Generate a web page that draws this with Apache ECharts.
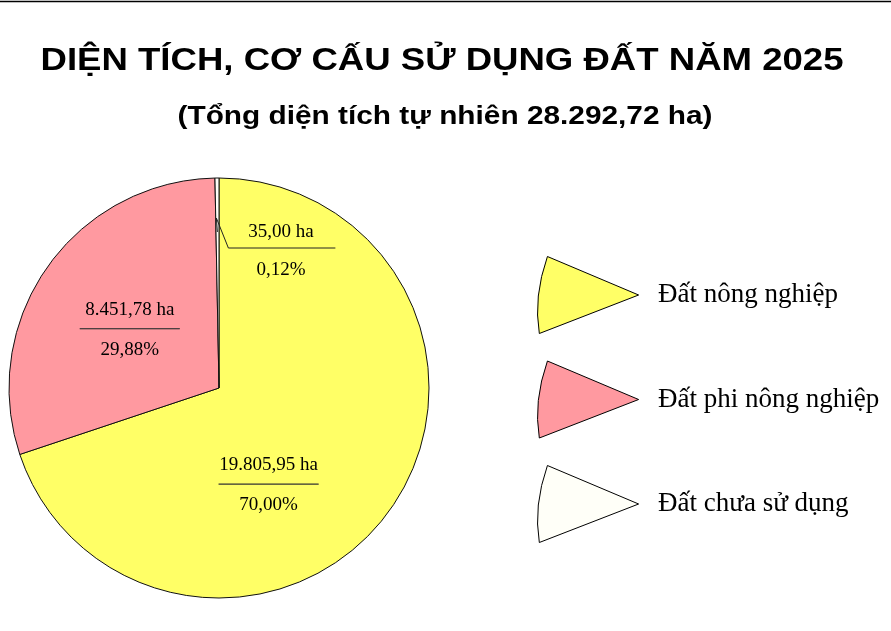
<!DOCTYPE html>
<html>
<head>
<meta charset="utf-8">
<script src="https://cdn.jsdelivr.net/npm/echarts@6/dist/echarts.min.js"></script>
<style>
    html, body {margin: 0; padding: 0; background: #fff;}
    #chart {width: 891px; height: 631px;}
</style>
</head>
<body>
<div id="chart"></div>
<script>
// 数据部分
var categories = ['Đất nông nghiệp', 'Đất phi nông nghiệp', 'Đất chưa sử dụng'];
var areas = [19805.95, 8451.78, 35.00];
var percents = ['70,00', '29,88', '0,12'];
var colors = ['#FFFF66', '#FF99A0', '#FFFFF8'];
var titleText = 'DIỆN TÍCH, CƠ CẤU SỬ DỤNG ĐẤT NĂM 2025';
var subText = '(Tổng diện tích tự nhiên 28.292,72 ha)';

// 数字格式 19805.95 -> 19.805,95
function fmtVN(v) {
    var parts = v.toFixed(2).split('.');
    var intPart = parts[0].replace(/\B(?=(\d{3})+(?!\d))/g, '.');
    return intPart + ',' + parts[1];
}

// 标题文字宽度（用于横向拉伸）
function textWidth(str, font) {
    var ctx = document.createElement('canvas').getContext('2d');
    ctx.font = font;
    return ctx.measureText(str).width;
}

var serif = '"Liberation Serif", "Times New Roman", serif';
var sans = '"Liberation Sans", Arial, sans-serif';
var titleFont = 'bold 31px ' + sans;
var subFont = 'bold 26px ' + sans;
var titleScale = 803 / textWidth(titleText, titleFont);
var subScale = 535 / textWidth(subText, subFont);

var pieData = [];
for (var i = 0; i < categories.length; i++) {
    pieData.push({
        name: categories[i],
        value: areas[i],
        itemStyle: {color: colors[i]}
    })
}
// 标签偏移
pieData[0].label = {offset: [-38, 35]};
pieData[1].label = {offset: [-1, 5]};
// 白色小块：标签放在饼内，引线另画
pieData[2].label = {
    position: 'outside',
    formatter: function (p) {
        return '{a|' + fmtVN(p.value) + ' ha}\n{b|' + percents[p.dataIndex] + '%}';
    },
    rich: {
        a: {fontFamily: serif, fontSize: 19, color: '#000', lineHeight: 38},
        b: {fontFamily: serif, fontSize: 19, color: '#000', lineHeight: 38}
    }
};

var chart = echarts.init(document.getElementById('chart'));
var option = {
    backgroundColor: '#fff',
    animation: false,
    graphic: [{
        id: 'topLine',
        type: 'line',
        shape: {x1: 0, y1: 1.5, x2: 891, y2: 1.5},
        style: {stroke: '#000', lineWidth: 1.5}
    }, {
        id: 'title',
        type: 'text',
        x: 442, y: 61.5,
        scaleX: titleScale,
        style: {text: titleText, font: titleFont, fill: '#000', align: 'center', verticalAlign: 'middle'}
    }, {
        id: 'subtitle',
        type: 'text',
        x: 445, y: 116.5,
        scaleX: subScale,
        style: {text: subText, font: subFont, fill: '#000', align: 'center', verticalAlign: 'middle'}
    }],
    legend: {
        orient: 'vertical',
        left: 532,
        top: 251,
        itemWidth: 102,
        itemHeight: 77,
        itemGap: 26.5,
        icon: 'path://M11,0 L101,38 L3,76 Q-3,40 11,0 Z',
        data: categories,
        textStyle: {fontFamily: serif, fontSize: 27, color: '#000', padding: [0, 0, 0, 14]},
        itemStyle: {borderColor: '#000', borderWidth: 1}
    },
    series: [{
        type: 'pie',
        center: [219, 388],
        radius: 210,
        startAngle: 90,
        clockwise: true,
        minAngle: 1.1,
        avoidLabelOverlap: false,
        itemStyle: {borderColor: '#111', borderWidth: 1},
        label: {
            position: 'inside',
            formatter: function (p) {
                return '{a|' + fmtVN(p.value) + ' ha}\n{hr|}\n{b|' + percents[p.dataIndex] + '%}';
            },
            rich: {
                a: {fontFamily: serif, fontSize: 19, color: '#000', lineHeight: 38},
                hr: {width: 100, height: 0, borderColor: '#333', borderWidth: 0.8},
                b: {fontFamily: serif, fontSize: 19, color: '#000', lineHeight: 42}
            }
        },
        labelLine: {show: false},
        labelLayout: function (params) {
            if (params.dataIndex !== 2 || !params.labelLinePoints) {
                return;
            }
            var p0 = params.labelLinePoints[0];
            return {
                x: p0[0] + 64,
                y: p0[1] + 73,
                align: 'center',
                verticalAlign: 'middle'
            }
        },
        emphasis: {disabled: true},
        data: pieData
    }]
};
chart.setOption(option);

// 小块的引线：按饼图布局计算
var layout = chart.getModel().getSeriesByIndex(0).getData().getItemLayout(2);
var mid = (layout.startAngle + layout.endAngle) / 2;
var sx = layout.cx + layout.r * 0.8 * Math.cos(mid);
var sy = layout.cy + layout.r * 0.8 * Math.sin(mid);
chart.setOption({
    graphic: [{
        id: 'leader',
        type: 'polyline',
        z: 100,
        shape: {points: [[sx - 1, sy - 2], [sx + 11, sy + 28], [sx + 118, sy + 28]]},
        style: {stroke: '#222', lineWidth: 1, fill: null}
    }, {
        id: 'leaderTip',
        type: 'line',
        z: 100,
        shape: {x1: sx - 1, y1: sy - 2, x2: sx, y2: sy + 12},
        style: {stroke: '#222', lineWidth: 1}
    }]
});
</script>
</body>
</html>
